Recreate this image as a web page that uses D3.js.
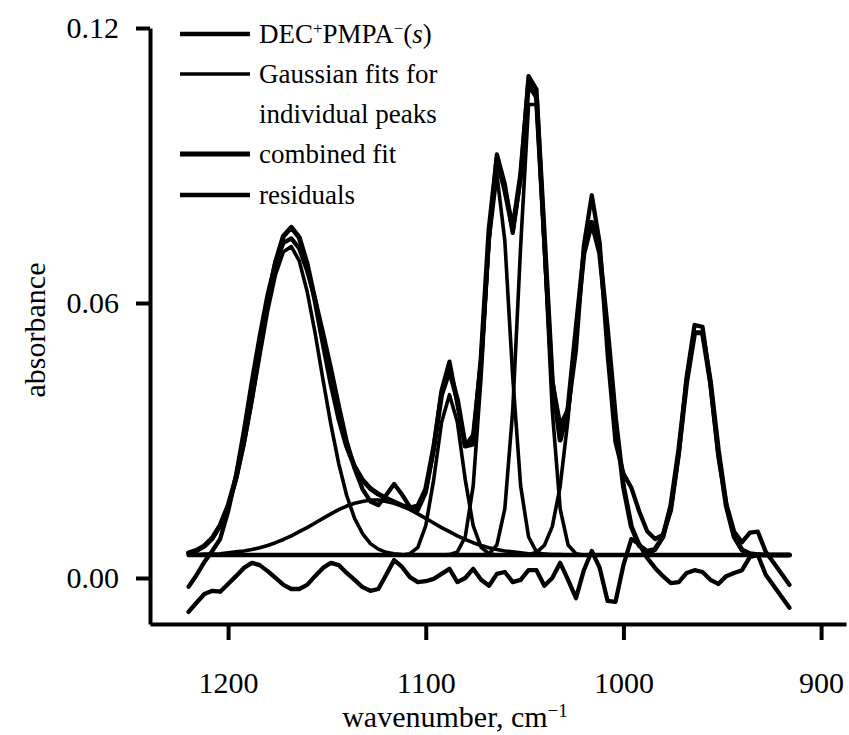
<!DOCTYPE html>
<html>
<head>
<meta charset="utf-8">
<script src="https://cdn.jsdelivr.net/npm/d3@7"></script>
<style>
    body { margin: 0; background: #fff; }
    svg text { font-family: "Liberation Serif", "Times New Roman", "DejaVu Serif", serif; fill: #000; }
</style>
</head>
<body>
<svg id="chart" width="849" height="735" font-family="Liberation Serif, Times New Roman, DejaVu Serif, serif"></svg>
<script>
const serif = "'Liberation Serif', 'Times New Roman', 'DejaVu Serif', serif";

// sampling grid, cm-1
const wavenumbers = [1220, 1216, 1212, 1208, 1204, 1200, 1196, 1192, 1188, 1184, 1180, 1176, 1172, 1168, 1164, 1160,
    1156, 1152, 1148, 1144, 1140, 1136, 1132, 1128, 1124, 1120, 1116, 1112, 1108, 1104, 1100, 1096, 1092, 1088,
    1084, 1080, 1076, 1072, 1068, 1064, 1060, 1056, 1052, 1048, 1044, 1040, 1036, 1032, 1028, 1024, 1020, 1016,
    1012, 1008, 1004, 1000, 996, 992, 988, 984, 980, 976, 972, 968, 964, 960, 956, 952, 948, 944, 940, 936, 932,
    928, 924, 920, 916];

const spectrum = [-0.0019, 0.0006, 0.0035, 0.0059, 0.0085, 0.0145, 0.0223, 0.0321, 0.0428, 0.0528, 0.0618, 0.0689,
    0.0731, 0.0741, 0.0719, 0.0670, 0.0609, 0.0535, 0.0458, 0.0376, 0.0298, 0.0239, 0.0194, 0.0167, 0.0159, 0.0181,
    0.0205, 0.0182, 0.0155, 0.0148, 0.0187, 0.0282, 0.0409, 0.0472, 0.0380, 0.0288, 0.0312, 0.0474, 0.0742, 0.0924,
    0.0859, 0.0753, 0.0875, 0.1095, 0.1066, 0.0729, 0.0429, 0.0334, 0.0367, 0.0498, 0.0725, 0.0835, 0.0730, 0.0489,
    0.0296, 0.0228, 0.0197, 0.0145, 0.0102, 0.0085, 0.0094, 0.0147, 0.0270, 0.0439, 0.0552, 0.0548, 0.0424, 0.0266,
    0.0162, 0.0101, 0.0078, 0.0099, 0.0101, 0.0057, 0.0033, 0.0009, -0.0015];

const combinedFit = [0.0055, 0.0060, 0.0070, 0.0087, 0.0115, 0.0158, 0.0219, 0.0299, 0.0395, 0.0500, 0.0603, 0.0689,
    0.0746, 0.0765, 0.0743, 0.0685, 0.0605, 0.0513, 0.0425, 0.0348, 0.0287, 0.0243, 0.0214, 0.0195, 0.0183, 0.0174,
    0.0166, 0.0158, 0.0153, 0.0157, 0.0194, 0.0284, 0.0400, 0.0452, 0.0389, 0.0288, 0.0292, 0.0478, 0.0759, 0.0915,
    0.0846, 0.0762, 0.0879, 0.1078, 0.1049, 0.0746, 0.0429, 0.0301, 0.0371, 0.0542, 0.0708, 0.0776, 0.0708, 0.0539,
    0.0348, 0.0200, 0.0112, 0.0071, 0.0058, 0.0063, 0.0090, 0.0158, 0.0279, 0.0428, 0.0535, 0.0535, 0.0428, 0.0279,
    0.0158, 0.0090, 0.0061, 0.0053, 0.0051, 0.0050, 0.0050, 0.0050, 0.0050];

const residuals = [-0.0074, -0.0054, -0.0035, -0.0028, -0.0030, -0.0013, 0.0004, 0.0022, 0.0033, 0.0028, 0.0015, 0.0000,
    -0.0015, -0.0024, -0.0024, -0.0015, 0.0004, 0.0022, 0.0033, 0.0028, 0.0011, -0.0004, -0.0020, -0.0028, -0.0024,
    0.0007, 0.0039, 0.0024, 0.0002, -0.0009, -0.0007, -0.0002, 0.0009, 0.0020, -0.0009, 0.0000, 0.0020, -0.0004,
    -0.0017, 0.0009, 0.0013, -0.0009, -0.0004, 0.0017, 0.0017, -0.0017, 0.0000, 0.0033, -0.0004, -0.0044, 0.0017,
    0.0059, 0.0022, -0.0050, -0.0052, 0.0028, 0.0085, 0.0074, 0.0044, 0.0022, 0.0004, -0.0011, -0.0009, 0.0011,
    0.0017, 0.0013, -0.0004, -0.0013, 0.0004, 0.0011, 0.0017, 0.0046, 0.0050, 0.0007, -0.0017, -0.0041, -0.0065];

// individual gaussian fits, each listed from its start wavenumber downwards
const gaussianStarts = [1220, 1220, 1112, 1092, 1072, 1048, 992];
const gaussian1169 = [0.0054, 0.0059, 0.0068, 0.0085, 0.0112, 0.0153, 0.0212, 0.0290, 0.0383, 0.0484, 0.0582,
    0.0662, 0.0712, 0.0723, 0.0692, 0.0625, 0.0535, 0.0433, 0.0335, 0.0249, 0.0180, 0.0130, 0.0097, 0.0075,
    0.0063, 0.0056, 0.0053, 0.0051, 0.0050];
const gaussian1126 = [0.0051, 0.0051, 0.0052, 0.0052, 0.0053, 0.0055, 0.0057, 0.0059, 0.0062, 0.0066, 0.0071,
    0.0077, 0.0084, 0.0092, 0.0101, 0.0110, 0.0120, 0.0130, 0.0140, 0.0149, 0.0157, 0.0163, 0.0167, 0.0170,
    0.0170, 0.0167, 0.0163, 0.0157, 0.0149, 0.0140, 0.0130, 0.0120, 0.0110, 0.0101, 0.0092, 0.0084, 0.0077,
    0.0071, 0.0066, 0.0062, 0.0059, 0.0057, 0.0055, 0.0053, 0.0052, 0.0052, 0.0051, 0.0051, 0.0050];
const gaussian1088 = [0.0050, 0.0053, 0.0067, 0.0114, 0.0214, 0.0340, 0.0400, 0.0340, 0.0214, 0.0114, 0.0067,
    0.0053, 0.0050];
const gaussian1064 = [0.0050, 0.0051, 0.0057, 0.0090, 0.0201, 0.0439, 0.0736, 0.0880, 0.0736, 0.0439, 0.0201,
    0.0090, 0.0057, 0.0051, 0.0050];
const gaussian1046 = [0.0050, 0.0053, 0.0072, 0.0151, 0.0366, 0.0723, 0.1033, 0.1033, 0.0723, 0.0366, 0.0151,
    0.0072, 0.0053, 0.0050];
const gaussian1016 = [0.0051, 0.0056, 0.0071, 0.0112, 0.0200, 0.0348, 0.0539, 0.0708, 0.0776, 0.0708, 0.0539,
    0.0348, 0.0200, 0.0112, 0.0071, 0.0056, 0.0051];
const gaussian962 = [0.0050, 0.0053, 0.0061, 0.0090, 0.0158, 0.0279, 0.0428, 0.0535, 0.0535, 0.0428, 0.0279,
    0.0158, 0.0090, 0.0061, 0.0053, 0.0050];
const gaussianBaseline = 0.005;

const xTicks = [1200, 1100, 1000, 900];
const yTicks = [0.00, 0.06, 0.12];

const svg = d3.select("#chart");

const x = d3.scaleLinear().domain([1239.5, 887.4]).range([150, 846]);
const y = d3.scaleLinear().domain([-0.01004, 0.12]).range([624, 28]);

const line = d3.line()
    .x(d => x(d[0]))
    .y(d => y(d[1]));

const pairs = (values, start) => {
    const offset = wavenumbers.indexOf(start);
    return values.map((v, i) => [wavenumbers[offset + i], v]);
};

const plot = svg.append("g").attr("fill", "none").attr("stroke", "#000")
    .attr("stroke-linejoin", "round").attr("stroke-linecap", "round");

// baseline shared by the gaussian tails
plot.append("path")
    .attr("d", line([[wavenumbers[0], gaussianBaseline], [wavenumbers[wavenumbers.length - 1], gaussianBaseline]]))
    .attr("stroke-width", 4.5);

const gaussians = [gaussian1169, gaussian1126, gaussian1088, gaussian1064, gaussian1046, gaussian1016, gaussian962];
gaussians.forEach((g, i) => {
    plot.append("path")
        .attr("d", line(pairs(g, gaussianStarts[i])))
        .attr("stroke-width", 3.6);
});

plot.append("path").attr("d", line(pairs(residuals, 1220))).attr("stroke-width", 4.3);
plot.append("path").attr("d", line(pairs(spectrum, 1220))).attr("stroke-width", 4.3);
plot.append("path").attr("d", line(pairs(combinedFit, 1220))).attr("stroke-width", 5);

// axes
const xAxis = svg.append("g")
    .attr("transform", "translate(0,624)")
    .call(d3.axisBottom(x).tickValues(xTicks).tickFormat(d3.format("d"))
        .tickSize(16).tickSizeOuter(0).tickPadding(32));

const yAxis = svg.append("g")
    .attr("transform", "translate(150,0)")
    .call(d3.axisLeft(y).tickValues(yTicks).tickFormat(d3.format(".2f"))
        .tickSize(14).tickSizeOuter(0).tickPadding(17));

[xAxis, yAxis].forEach(a => {
    a.attr("font-family", serif);
    a.select(".domain").attr("stroke-width", 4);
    a.selectAll(".tick line").attr("stroke-width", 4);
    a.selectAll(".tick text").attr("font-size", 30).attr("font-family", serif);
});

// axis titles
const xTitle = svg.append("text")
    .attr("x", 455).attr("y", 727)
    .attr("text-anchor", "middle").attr("font-size", 30).attr("font-family", serif)
    .text("wavenumber, cm");
xTitle.append("tspan").attr("baseline-shift", "super").attr("font-size", 19).text("\u22121");

svg.append("text")
    .attr("transform", "translate(45,330) rotate(-90)")
    .attr("text-anchor", "middle").attr("font-size", 30).attr("font-family", serif)
    .text("absorbance");

// legend
const legendRows = [
    { y: 34, width: 4.3 },
    { y: 74, width: 3.6 },
    { y: 154, width: 5 },
    { y: 195, width: 4.3 }
];
const legend = svg.append("g").attr("font-family", serif).attr("font-size", 27);
legendRows.forEach(r => {
    legend.append("line")
        .attr("x1", 180).attr("x2", 250)
        .attr("y1", r.y).attr("y2", r.y)
        .attr("stroke", "#000").attr("stroke-width", r.width);
});

const t1 = legend.append("text").attr("x", 259).attr("y", 43);
t1.append("tspan").text("DEC");
t1.append("tspan").attr("baseline-shift", "super").attr("font-size", 17).text("+");
t1.append("tspan").text("PMPA");
t1.append("tspan").attr("baseline-shift", "super").attr("font-size", 17).text("\u2212");
t1.append("tspan").text("(");
t1.append("tspan").attr("font-style", "italic").text("s");
t1.append("tspan").text(")");

legend.append("text").attr("x", 259).attr("y", 83).text("Gaussian fits for");
legend.append("text").attr("x", 259).attr("y", 123).text("individual peaks");
legend.append("text").attr("x", 259).attr("y", 163).text("combined fit");
legend.append("text").attr("x", 259).attr("y", 204).text("residuals");
</script>
</body>
</html>
